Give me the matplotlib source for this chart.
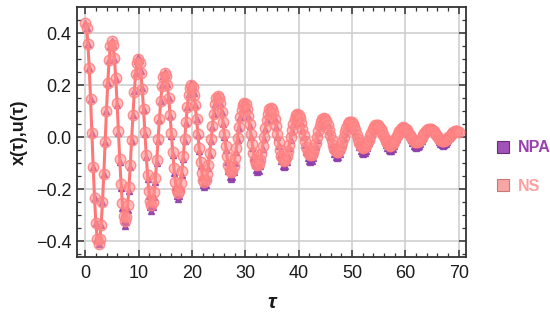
import numpy as np
import matplotlib
matplotlib.use("Agg")
import matplotlib.pyplot as plt
from matplotlib.lines import Line2D
from matplotlib.ticker import MultipleLocator, FuncFormatter

# ---- data ----
npa = [
 0.44, 0.419, 0.359, 0.265, 0.146, 0.015, -0.116, -0.235, -0.329, -0.389,
 -0.41, -0.391, -0.336, -0.249, -0.141, -0.02, 0.101, 0.209, 0.296, 0.351,
 0.37, 0.353, 0.302, 0.224, 0.125, 0.015, -0.095, -0.194, -0.272, -0.323,
 -0.34, -0.324, -0.278, -0.206, -0.115, -0.015, 0.085, 0.176, 0.248, 0.294,
 0.31, 0.295, 0.253, 0.188, 0.105, 0.014, -0.077, -0.160, -0.225, -0.267,
 -0.282, -0.269, -0.231, -0.172, -0.098, -0.016, 0.066, 0.140, 0.199, 0.237,
 0.25, 0.238, 0.203, 0.149, 0.081, 0.006, -0.069, -0.137, -0.191, -0.226,
 -0.238, -0.227, -0.196, -0.146, -0.084, -0.016, 0.053, 0.115, 0.165, 0.196,
 0.207, 0.197, 0.169, 0.125, 0.069, 0.008, -0.054, -0.110, -0.154, -0.182,
 -0.192, -0.183, -0.158, -0.119, -0.069, -0.014, 0.040, 0.090, 0.129, 0.154,
 0.163, 0.155, 0.132, 0.097, 0.051, 0.002, -0.048, -0.094, -0.129, -0.152,
 -0.16, -0.153, -0.132, -0.099, -0.057, -0.012, 0.034, 0.076, 0.109, 0.130,
 0.137, 0.130, 0.111, 0.081, 0.043, 0.002, -0.040, -0.078, -0.108, -0.127,
 -0.134, -0.128, -0.110, -0.082, -0.047, -0.008, 0.031, 0.066, 0.094, 0.112,
 0.118, 0.112, 0.096, 0.070, 0.038, 0.002, -0.035, -0.067, -0.093, -0.109,
 -0.115, -0.110, -0.095, -0.072, -0.043, -0.011, 0.022, 0.051, 0.074, 0.089,
 0.094, 0.089, 0.076, 0.055, 0.028, -0.001, -0.030, -0.057, -0.078, -0.091,
 -0.096, -0.092, -0.080, -0.060, -0.036, -0.009, 0.019, 0.043, 0.063, 0.075,
 0.079, 0.075, 0.064, 0.046, 0.024, -0.001, -0.025, -0.047, -0.065, -0.076,
 -0.08, -0.076, -0.066, -0.050, -0.030, -0.007, 0.016, 0.036, 0.052, 0.062,
 0.066, 0.063, 0.054, 0.039, 0.021, 0.001, -0.019, -0.037, -0.052, -0.061,
 -0.064, -0.061, -0.053, -0.040, -0.024, -0.006, 0.013, 0.029, 0.042, 0.050,
 0.053, 0.050, 0.043, 0.031, 0.016, 0.0, -0.016, -0.031, -0.043, -0.050,
 -0.053, -0.051, -0.044, -0.033, -0.020, -0.005, 0.010, 0.023, 0.034, 0.041,
 0.043, 0.041, 0.035, 0.026, 0.014, 0.001, -0.012, -0.024, -0.033, -0.039,
 -0.041, -0.039, -0.034, -0.025, -0.014, -0.002, 0.011, 0.022, 0.031, 0.036,
 0.038, 0.036, 0.031, 0.024, 0.014, 0.003, -0.008, -0.018, -0.025, -0.030,
 -0.032, -0.031, -0.026, -0.020, -0.011, -0.002, 0.007, 0.016, 0.022, 0.027,
 0.028, 0.027, 0.023,
]

ns = [
 0.44, 0.419, 0.359, 0.265, 0.146, 0.015, -0.116, -0.235, -0.329, -0.389,
 -0.41, -0.391, -0.336, -0.249, -0.141, -0.02, 0.101, 0.209, 0.296, 0.351,
 0.37, 0.353, 0.304, 0.228, 0.132, 0.025, -0.082, -0.178, -0.254, -0.303,
 -0.32, -0.305, -0.261, -0.192, -0.106, -0.010, 0.086, 0.172, 0.241, 0.285,
 0.30, 0.286, 0.247, 0.185, 0.107, 0.020, -0.067, -0.145, -0.207, -0.246,
 -0.26, -0.248, -0.212, -0.156, -0.086, -0.008, 0.071, 0.141, 0.197, 0.233,
 0.245, 0.234, 0.201, 0.150, 0.086, 0.015, -0.056, -0.120, -0.171, -0.204,
 -0.215, -0.205, -0.176, -0.130, -0.072, -0.008, 0.057, 0.115, 0.161, 0.190,
 0.20, 0.191, 0.164, 0.123, 0.071, 0.014, -0.043, -0.095, -0.136, -0.163,
 -0.172, -0.164, -0.141, -0.105, -0.059, -0.008, 0.044, 0.090, 0.126, 0.149,
 0.157, 0.150, 0.130, 0.098, 0.057, 0.012, -0.034, -0.074, -0.107, -0.127,
 -0.134, -0.128, -0.109, -0.080, -0.043, -0.002, 0.040, 0.076, 0.106, 0.124,
 0.131, 0.126, 0.109, 0.082, 0.049, 0.012, -0.026, -0.059, -0.086, -0.102,
 -0.108, -0.103, -0.087, -0.063, -0.032, 0.002, 0.036, 0.067, 0.091, 0.107,
 0.112, 0.107, 0.093, 0.070, 0.042, 0.011, -0.020, -0.048, -0.071, -0.085,
 -0.09, -0.086, -0.073, -0.053, -0.029, -0.001, 0.027, 0.051, 0.071, 0.084,
 0.088, 0.084, 0.073, 0.055, 0.033, 0.009, -0.015, -0.037, -0.055, -0.066,
 -0.07, -0.067, -0.057, -0.041, -0.021, 0.002, 0.024, 0.044, 0.059, 0.070,
 0.073, 0.070, 0.061, 0.046, 0.028, 0.008, -0.012, -0.030, -0.045, -0.054,
 -0.057, -0.055, -0.046, -0.033, -0.017, 0.002, 0.020, 0.036, 0.049, 0.058,
 0.06, 0.058, 0.051, 0.040, 0.026, 0.010, -0.007, -0.021, -0.032, -0.039,
 -0.041, -0.039, -0.033, -0.023, -0.011, 0.004, 0.018, 0.030, 0.040, 0.046,
 0.048, 0.046, 0.040, 0.032, 0.020, 0.008, -0.004, -0.016, -0.024, -0.030,
 -0.032, -0.030, -0.025, -0.018, -0.008, 0.003, 0.014, 0.024, 0.031, 0.036,
 0.038, 0.037, 0.032, 0.026, 0.018, 0.009, 0.0, -0.008, -0.014, -0.019,
 -0.02, -0.019, -0.015, -0.009, -0.002, 0.007, 0.015, 0.022, 0.028, 0.032,
 0.033, 0.032, 0.028, 0.023, 0.016, 0.009, 0.002, -0.005, -0.010, -0.014,
 -0.015, -0.014, -0.011, -0.007, -0.001, 0.005, 0.010, 0.016, 0.020, 0.023,
 0.024, 0.023, 0.021,
]

tau = np.linspace(0, 70, len(npa))

series_names = ["NPA", "NS"]
x_ticks = [0, 10, 20, 30, 40, 50, 60, 70]
y_ticks = [-0.4, -0.2, 0.0, 0.2, 0.4]

# ---- style ----
plt.rcParams['font.family'] = ['Liberation Sans', 'DejaVu Sans']
purple = '#8E3FAA'
pink = '#FF7878'

fig = plt.figure(figsize=(5.5, 3.24), dpi=100)
ax = fig.add_axes([77/550, 1-257/324, (466-77)/550, (257-7.3)/324])

ax.plot(tau, npa, linestyle='none', marker='^', ms=5, color=purple,
        mec=purple, alpha=0.9, zorder=3)
ax.plot(tau, ns, color=pink, lw=2.2, marker='o', ms=7.5,
        mfc=(1.0, 0.55, 0.55, 0.55), mec=(1.0, 0.5, 0.5, 0.85), mew=1.0,
        zorder=4)

ax.set_xlim(-1.55, 71.35)
ax.set_ylim(-0.46, 0.499)
ax.set_xticks(x_ticks)
ax.set_yticks(y_ticks)
ax.xaxis.set_minor_locator(MultipleLocator(2))
ax.yaxis.set_minor_locator(MultipleLocator(0.05))
ax.yaxis.set_major_formatter(
    FuncFormatter(lambda v, p: ('%.1f' % v).replace('-', '\u2212') if abs(v) > 1e-9 else '0.0'))
ax.grid(True, which='major', color='#cccccc', lw=1.1, zorder=0)
ax.set_axisbelow(True)

for s in ax.spines.values():
    s.set_color('#333333')
    s.set_linewidth(1.3)
ax.tick_params(which='both', direction='in', top=True, right=True,
               color='#333333', labelcolor='#1a1a1a')
ax.tick_params(which='major', length=5, width=1.1, labelsize=13, pad=6)
ax.tick_params(axis='y', which='major', pad=4)
ax.tick_params(which='minor', length=2.8, width=0.9)

ax.set_xlabel('τ', fontsize=15, fontweight='bold', fontstyle='italic',
              color='#1a1a1a', labelpad=8)
ax.set_ylabel('x(τ),u(τ)', fontsize=13, fontweight='bold', color='#1a1a1a',
              labelpad=6)

handles = [
    Line2D([], [], linestyle='none', marker='s', ms=8.5,
           mfc='#A052B8', mec='#6B2C7C', mew=0.8),
    Line2D([], [], linestyle='none', marker='s', ms=8.5,
           mfc='#F7A6A6', mec='#C87878', mew=0.8),
]
leg = fig.legend(handles, series_names, loc='center left',
                 bbox_to_anchor=(481/550, 1-167/324), frameon=False,
                 prop={'weight': 'bold', 'size': 11.5},
                 labelspacing=1.45, handletextpad=0.4, handlelength=1.0)
for t, c in zip(leg.get_texts(), ['#9A3FB2', '#FFA0A0']):
    t.set_color(c)

fig.savefig('out.png', dpi=100)
